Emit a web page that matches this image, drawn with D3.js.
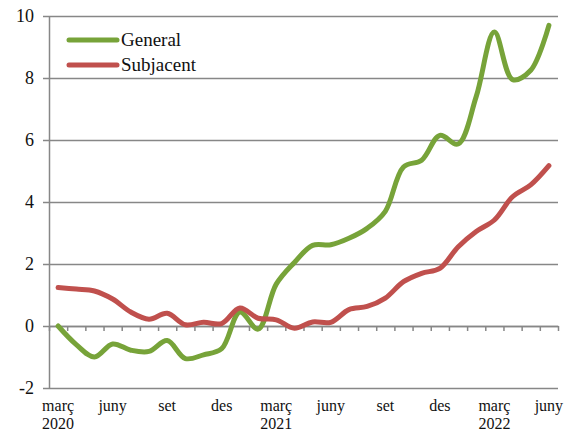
<!DOCTYPE html>
<html>
<head>
<meta charset="utf-8">
<script src="https://cdn.jsdelivr.net/npm/d3@7"></script>
<style>
  body { margin: 0; background: #fff; }
  svg { display: block; font-family: "Liberation Serif", "Times New Roman", serif; }
</style>
</head>
<body>
<div class="chart"></div>
<script>
const months = ["març 2020", "abr 2020", "maig 2020", "juny 2020", "jul 2020", "ag 2020", "set 2020", "oct 2020", "nov 2020", "des 2020",
  "gen 2021", "febr 2021", "març 2021", "abr 2021", "maig 2021", "juny 2021", "jul 2021", "ag 2021", "set 2021", "oct 2021", "nov 2021", "des 2021",
  "gen 2022", "febr 2022", "març 2022", "abr 2022", "maig 2022", "juny 2022"];
const general = [0.0, -0.6, -1.0, -0.58, -0.78, -0.82, -0.47, -1.05, -0.93, -0.73,
  0.45, -0.1, 1.35, 2.05, 2.6, 2.62, 2.83, 3.15, 3.7, 5.13, 5.35, 6.15,
  5.87, 7.4, 9.48, 7.95, 8.25, 9.7];
const subjacent = [1.24, 1.19, 1.13, 0.87, 0.45, 0.22, 0.41, 0.04, 0.12, 0.08,
  0.58, 0.25, 0.2, -0.07, 0.13, 0.12, 0.53, 0.63, 0.9, 1.43, 1.7, 1.86,
  2.55, 3.05, 3.42, 4.17, 4.55, 5.17];
const monthLabels = ["març", "", "", "juny", "", "", "set", "", "", "des", "", "",
  "març", "", "", "juny", "", "", "set", "", "", "des", "", "",
  "març", "", "", "juny"];
const yearLabels = ["2020", "", "", "", "", "", "", "", "", "", "", "",
  "2021", "", "", "", "", "", "", "", "", "", "", "",
  "2022", "", "", ""];
const yTicks = [-2, 0, 2, 4, 6, 8, 10];
const seriesNames = ["General", "Subjacent"];
const colors = ["#77a339", "#c0504d"];

const width = 567, height = 432;
const margin = { top: 16, right: 9, bottom: 44, left: 49 };

const svg = d3.select(".chart").append("svg")
  .attr("width", width)
  .attr("height", height);

// edges of the monthly bands; points sit at band centres
const xEdge = d3.scaleLinear()
  .domain([0, months.length])
  .range([margin.left, width - margin.right]);
const x = i => xEdge(i + 0.5);
const y = d3.scaleLinear()
  .domain([-2, 10])
  .range([height - margin.bottom, margin.top]);

// y axis with gridlines
const yAxis = d3.axisLeft(y)
  .tickValues(yTicks)
  .tickFormat(d => String(d))
  .tickSize(-(width - margin.right - margin.left))
  .tickSizeOuter(0)
  .tickPadding(10);
const gY = svg.append("g")
  .attr("transform", `translate(${margin.left},0)`)
  .call(yAxis);
gY.select(".domain").attr("stroke", "#878787").attr("stroke-width", 1.5);
gY.selectAll(".tick line")
  .attr("stroke", "#878787")
  .attr("stroke-width", 1.5)
  .attr("x1", -6);
gY.selectAll(".tick text")
  .attr("font-size", 18)
  .attr("fill", "#111")
  .attr("x", -15)
  .attr("font-family", "Liberation Serif");

// month ticks on the zero line
const xAxis = d3.axisBottom(xEdge)
  .tickValues(d3.range(0, months.length + 1))
  .tickFormat("")
  .tickSize(5)
  .tickSizeOuter(0);
const gX = svg.append("g")
  .attr("transform", `translate(0,${y(0)})`)
  .call(xAxis);
gX.select(".domain").attr("stroke", "#878787").attr("stroke-width", 1.5);
gX.selectAll(".tick line").attr("stroke", "#878787").attr("stroke-width", 1.5);

// x labels
svg.append("g").selectAll("text")
  .data(monthLabels)
  .join("text")
  .attr("x", (d, i) => x(i))
  .attr("y", 411)
  .attr("text-anchor", "middle")
  .attr("font-size", 16)
  .attr("fill", "#111")
  .text(d => d);
svg.append("g").selectAll("text")
  .data(yearLabels)
  .join("text")
  .attr("x", (d, i) => x(i))
  .attr("y", 429)
  .attr("text-anchor", "middle")
  .attr("font-size", 16)
  .attr("fill", "#111")
  .text(d => d);

// lines
const line = d3.line()
  .x((d, i) => x(i))
  .y(d => y(d))
  .curve(d3.curveCatmullRom.alpha(0.5));

[general, subjacent].forEach((series, k) => {
  svg.append("path")
    .datum(series)
    .attr("fill", "none")
    .attr("stroke", colors[k])
    .attr("stroke-width", 5)
    .attr("stroke-linecap", "round")
    .attr("stroke-linejoin", "round")
    .attr("d", line);
});

// legend
const legend = svg.append("g").selectAll("g")
  .data(seriesNames)
  .join("g")
  .attr("transform", (d, i) => `translate(69,${40 + i * 25})`);
legend.append("line")
  .attr("x1", 0).attr("x2", 48)
  .attr("stroke", (d, i) => colors[i])
  .attr("stroke-width", 5)
  .attr("stroke-linecap", "round");
legend.append("text")
  .attr("x", 52)
  .attr("y", 6)
  .attr("font-size", 19)
  .attr("fill", "#111")
  .text(d => d);
</script>
</body>
</html>
